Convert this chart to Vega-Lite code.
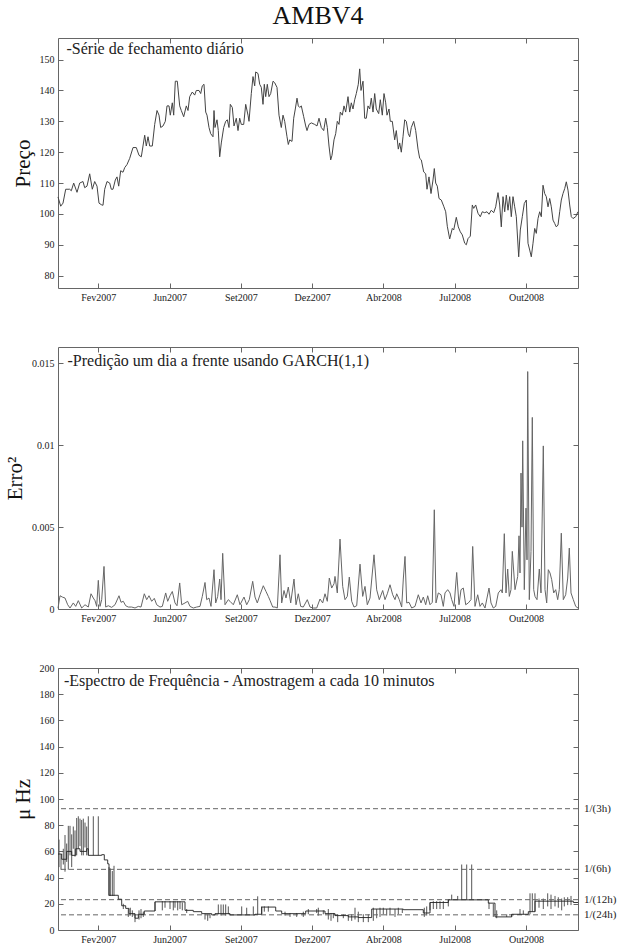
{
  "$schema": "https://vega.github.io/schema/vega-lite/v6.json",
  "padding": {"left": 4, "top": 3, "right": 2, "bottom": 2},
  "bounds": "flush",
  "spacing": 59,
  "title": {"text": "AMBV4", "font": "Liberation Serif", "fontSize": 26, "fontWeight": "normal", "color": "#111", "anchor": "middle", "frame": "group", "offset": 8},
  "config": {
    "font": "Liberation Serif",
    "view": {"stroke": "#666", "strokeWidth": 1},
    "axis": {"labelFont": "Liberation Serif", "labelFontSize": 10, "labelColor": "#222", "titleFont": "Liberation Serif", "titleFontSize": 21, "titleFontWeight": "normal", "titleColor": "#111", "grid": false, "domain": false, "tickColor": "#666", "tickSize": -5, "labelPadding": 9, "titlePadding": 6}
  },
  "datasets": {
    "price": [
      {"t":0,"p":105.5},{"t":2.7,"p":102.5},{"t":5,"p":103.5},{"t":7.7,"p":108},{"t":11.7,"p":108},{"t":13.3,"p":107.5},{"t":15.7,"p":110},{"t":19,"p":107},{"t":21.7,"p":110},{"t":25,"p":110.5},{"t":26.7,"p":108.5},{"t":29,"p":109},{"t":31.7,"p":113},{"t":34.3,"p":108},{"t":36.7,"p":110.5},{"t":39,"p":109},{"t":41,"p":103.5},{"t":43.3,"p":103},{"t":45,"p":102.8},{"t":46.7,"p":108},{"t":49,"p":110.5},{"t":51.7,"p":110},{"t":53.3,"p":108},{"t":55,"p":108},{"t":57.3,"p":111},{"t":59,"p":112},{"t":60.7,"p":109},{"t":62.7,"p":114},{"t":65,"p":113.5},{"t":66.7,"p":115},{"t":69,"p":116},{"t":71.7,"p":118},{"t":75,"p":121.5},{"t":78.3,"p":121.5},{"t":81,"p":119},{"t":83.3,"p":118.5},{"t":86.7,"p":125.5},{"t":88.3,"p":122},{"t":90,"p":125},{"t":91.7,"p":122},{"t":94.3,"p":122},{"t":96.7,"p":129},{"t":99,"p":133.5},{"t":101,"p":132},{"t":102.7,"p":128},{"t":105,"p":128.5},{"t":107.3,"p":130},{"t":109,"p":135},{"t":111,"p":135},{"t":112.3,"p":132},{"t":114.3,"p":136},{"t":115.7,"p":132},{"t":117.3,"p":143},{"t":119.3,"p":143},{"t":121.7,"p":135},{"t":123.3,"p":133.5},{"t":125.7,"p":131.5},{"t":128.3,"p":135},{"t":130,"p":133.5},{"t":131.7,"p":138},{"t":134.3,"p":139.5},{"t":136.7,"p":138.5},{"t":138.3,"p":140},{"t":141,"p":140},{"t":142.7,"p":139},{"t":144.3,"p":141.5},{"t":146,"p":142},{"t":147.7,"p":133},{"t":149,"p":132},{"t":151,"p":128},{"t":152.7,"p":126},{"t":155,"p":125},{"t":156,"p":133.5},{"t":157,"p":128},{"t":159,"p":130.5},{"t":160.3,"p":127},{"t":161.7,"p":118.5},{"t":163.3,"p":123},{"t":165.7,"p":128},{"t":167.7,"p":130},{"t":169.3,"p":130.5},{"t":171,"p":128},{"t":172.3,"p":135.5},{"t":174.3,"p":134.5},{"t":176,"p":128.5},{"t":178.3,"p":131},{"t":180,"p":127},{"t":181.7,"p":131},{"t":183.3,"p":129},{"t":185.7,"p":129},{"t":187.7,"p":135.5},{"t":190,"p":132},{"t":191,"p":130},{"t":193.3,"p":139},{"t":195,"p":144.5},{"t":196.7,"p":141.5},{"t":197.7,"p":146},{"t":200,"p":145.5},{"t":201.7,"p":142},{"t":203.3,"p":141},{"t":205,"p":135.5},{"t":206.3,"p":142},{"t":207.7,"p":138},{"t":209.3,"p":142},{"t":211,"p":138},{"t":212.7,"p":139},{"t":215,"p":143},{"t":216.7,"p":142.5},{"t":219,"p":141},{"t":221,"p":132},{"t":223.3,"p":128},{"t":225,"p":132},{"t":226.7,"p":130},{"t":229,"p":125},{"t":230.3,"p":122.5},{"t":231.7,"p":124},{"t":234,"p":123.5},{"t":235.7,"p":131},{"t":237.3,"p":134},{"t":239,"p":137.5},{"t":240.3,"p":135},{"t":241.7,"p":134.5},{"t":243.3,"p":135},{"t":245.7,"p":131.5},{"t":247.7,"p":128.5},{"t":249,"p":127},{"t":251,"p":129},{"t":253.3,"p":129.5},{"t":256.7,"p":129},{"t":259,"p":128.5},{"t":261,"p":131},{"t":263.3,"p":128},{"t":265.7,"p":127},{"t":267.7,"p":131},{"t":269.3,"p":128},{"t":271,"p":122},{"t":272.7,"p":117.5},{"t":274,"p":119},{"t":276,"p":124},{"t":277.7,"p":126},{"t":279.3,"p":130},{"t":281,"p":129},{"t":282.3,"p":133},{"t":284.3,"p":132},{"t":286,"p":135},{"t":287.7,"p":133},{"t":290,"p":138},{"t":291.7,"p":133},{"t":293.3,"p":136},{"t":295,"p":134},{"t":296.7,"p":137},{"t":298.3,"p":139},{"t":300.3,"p":142},{"t":301.7,"p":147},{"t":303,"p":140},{"t":305,"p":143},{"t":306.7,"p":131},{"t":308.3,"p":131},{"t":310,"p":135},{"t":311.7,"p":134},{"t":313.3,"p":137.5},{"t":315,"p":133},{"t":316.7,"p":139},{"t":318.3,"p":134},{"t":320.7,"p":132.5},{"t":322.3,"p":137},{"t":324.3,"p":132},{"t":326,"p":139},{"t":327.7,"p":136},{"t":329,"p":132},{"t":331,"p":134},{"t":332.3,"p":130},{"t":334.3,"p":130},{"t":336.7,"p":124},{"t":338.3,"p":127},{"t":340.3,"p":121},{"t":341.7,"p":123},{"t":343.3,"p":120},{"t":345,"p":125},{"t":346.7,"p":130.5},{"t":348.3,"p":130},{"t":350.3,"p":126},{"t":351.7,"p":125},{"t":353.3,"p":128},{"t":355.7,"p":130},{"t":357.7,"p":127},{"t":360,"p":121},{"t":361.7,"p":118},{"t":363.3,"p":117.5},{"t":365.7,"p":113.6},{"t":367.7,"p":113},{"t":369,"p":108},{"t":371,"p":112},{"t":373,"p":106.6},{"t":375,"p":111},{"t":376.3,"p":114.7},{"t":377.7,"p":110},{"t":379.3,"p":109},{"t":381,"p":105},{"t":383.3,"p":104.5},{"t":385.7,"p":102.5},{"t":387.7,"p":100.7},{"t":389.3,"p":96},{"t":391.7,"p":91.9},{"t":394.3,"p":95.3},{"t":395.7,"p":94.8},{"t":398.3,"p":98.9},{"t":400.3,"p":95.8},{"t":402.3,"p":94.2},{"t":404.3,"p":93.2},{"t":406.7,"p":90.5},{"t":408.3,"p":90},{"t":410,"p":92},{"t":412.3,"p":92.8},{"t":414.3,"p":102.9},{"t":415.7,"p":101.8},{"t":417.7,"p":102.9},{"t":420,"p":100.2},{"t":422.3,"p":99.1},{"t":424.3,"p":100.7},{"t":426.7,"p":100.4},{"t":429,"p":100.7},{"t":431,"p":99.9},{"t":433.3,"p":101.2},{"t":435.7,"p":100.4},{"t":437.7,"p":102.3},{"t":440,"p":106.9},{"t":441.7,"p":102.9},{"t":443.3,"p":95.8},{"t":445,"p":105.6},{"t":446.7,"p":100.7},{"t":448.3,"p":106.1},{"t":450,"p":101.2},{"t":451.7,"p":105.6},{"t":453.3,"p":99.1},{"t":455,"p":105.6},{"t":456.7,"p":102.3},{"t":458.3,"p":99.1},{"t":460.7,"p":86.1},{"t":462.3,"p":94.8},{"t":464.3,"p":99.1},{"t":466.3,"p":103.4},{"t":468.3,"p":104.5},{"t":470,"p":90.5},{"t":471.7,"p":88.3},{"t":473.3,"p":86.1},{"t":475,"p":90.5},{"t":476.7,"p":95.3},{"t":478.3,"p":93.7},{"t":480,"p":98.5},{"t":481.7,"p":100.7},{"t":483.3,"p":99.1},{"t":485,"p":109.3},{"t":486.7,"p":106.6},{"t":488.3,"p":105.6},{"t":490,"p":102.3},{"t":491.7,"p":105},{"t":493.3,"p":102.3},{"t":495,"p":98},{"t":496.7,"p":96.9},{"t":498.3,"p":95.8},{"t":500,"p":96.4},{"t":501.7,"p":100.7},{"t":503.3,"p":104.5},{"t":505,"p":106.6},{"t":506.7,"p":108.2},{"t":508.3,"p":110.4},{"t":510,"p":107.7},{"t":511.7,"p":102.9},{"t":513.3,"p":99.1},{"t":515,"p":98.5},{"t":517.7,"p":99.1},{"t":520,"p":100.7}
    ],
    "garch": [
      {"t":0,"e":0.00005},{"t":2,"e":0.00081},{"t":4.3,"e":0.00073},{"t":7,"e":0.00067},{"t":9.7,"e":0.00026},{"t":12,"e":0.00006},{"t":15.3,"e":0.00037},{"t":17.7,"e":0.00016},{"t":20.3,"e":0.00051},{"t":23.7,"e":0.00006},{"t":27,"e":0.00026},{"t":30.3,"e":0.00012},{"t":33,"e":0.00093},{"t":35.3,"e":0.00067},{"t":37,"e":0.00051},{"t":38.7,"e":0.00016},{"t":40.3,"e":0.00175},{"t":42,"e":0.00016},{"t":43.7,"e":0.00057},{"t":46,"e":0.0026},{"t":47.7,"e":0.00012},{"t":50.3,"e":0.0002},{"t":53.7,"e":0.0001},{"t":57,"e":0.00026},{"t":61,"e":0.00081},{"t":63,"e":0.00041},{"t":65.3,"e":0.00047},{"t":67.7,"e":0.0002},{"t":70.3,"e":0.00012},{"t":73.7,"e":0.00012},{"t":77,"e":0.00006},{"t":80.3,"e":0.00016},{"t":83,"e":0.00012},{"t":86.3,"e":0.00093},{"t":88.7,"e":0.00057},{"t":91,"e":0.00081},{"t":93.7,"e":0.00047},{"t":96.3,"e":0.00065},{"t":98.7,"e":0.00026},{"t":102,"e":0.00012},{"t":104.3,"e":0.00016},{"t":107.7,"e":0.00098},{"t":109.7,"e":0.00047},{"t":112,"e":0.00081},{"t":114.3,"e":0.00107},{"t":117,"e":0.00037},{"t":119,"e":0.0002},{"t":121.7,"e":0.00159},{"t":123.7,"e":0.00026},{"t":127,"e":0.00037},{"t":129.7,"e":0.00047},{"t":132,"e":0.00016},{"t":135.3,"e":0.00006},{"t":138.7,"e":0.00012},{"t":142,"e":0.00016},{"t":144.3,"e":0.00077},{"t":147,"e":0.00162},{"t":148.7,"e":0.00057},{"t":151,"e":0.00067},{"t":153,"e":0.00016},{"t":156,"e":0.0024},{"t":157.7,"e":0.00037},{"t":159.7,"e":0.00077},{"t":161.7,"e":0.00183},{"t":163,"e":0.00057},{"t":164.7,"e":0.0034},{"t":167,"e":0.00026},{"t":170.3,"e":0.00057},{"t":172,"e":0.00047},{"t":175.3,"e":0.00026},{"t":179.3,"e":0.00087},{"t":182,"e":0.00026},{"t":186,"e":0.00073},{"t":188.7,"e":0.00026},{"t":191.3,"e":0.00057},{"t":194.7,"e":0.00169},{"t":197,"e":0.00073},{"t":199.3,"e":0.00037},{"t":202,"e":0.00087},{"t":205.3,"e":0.00142},{"t":208,"e":0.00107},{"t":210.3,"e":0.00077},{"t":212,"e":0.00053},{"t":214.7,"e":0.00012},{"t":217,"e":0.00012},{"t":219.3,"e":0.00006},{"t":222,"e":0.00331},{"t":223.7,"e":0.00037},{"t":226,"e":0.00113},{"t":228,"e":0.00067},{"t":230.3,"e":0.00134},{"t":232.7,"e":0.00037},{"t":236,"e":0.00183},{"t":238,"e":0.00026},{"t":240.3,"e":0.00093},{"t":242.7,"e":0.00016},{"t":245.3,"e":0.00012},{"t":249.3,"e":0.00057},{"t":252,"e":0.00012},{"t":255.3,"e":0.00006},{"t":258.7,"e":0.00006},{"t":262,"e":0.00061},{"t":264.7,"e":0.00037},{"t":267,"e":0.00093},{"t":269.3,"e":0.00047},{"t":271.3,"e":0.00189},{"t":273.7,"e":0.00128},{"t":276,"e":0.00154},{"t":277,"e":0.00199},{"t":279.3,"e":0.00098},{"t":282,"e":0.00427},{"t":284.7,"e":0.00138},{"t":287,"e":0.00057},{"t":289.3,"e":0.00077},{"t":291.3,"e":0.00195},{"t":293.7,"e":0.00047},{"t":296,"e":0.00012},{"t":298.7,"e":0.0002},{"t":302,"e":0.00274},{"t":304.7,"e":0.00077},{"t":307,"e":0.00138},{"t":309.3,"e":0.00026},{"t":312,"e":0.00067},{"t":316,"e":0.00331},{"t":318.7,"e":0.00117},{"t":321.3,"e":0.00057},{"t":324.7,"e":0.00113},{"t":327,"e":0.00057},{"t":329.3,"e":0.00093},{"t":332,"e":0.00148},{"t":334.7,"e":0.00087},{"t":337,"e":0.00057},{"t":338.7,"e":0.00093},{"t":341.3,"e":0.00057},{"t":343.7,"e":0.00012},{"t":345.3,"e":0.00183},{"t":347,"e":0.00321},{"t":348.7,"e":0.00037},{"t":351,"e":0.00041},{"t":353.7,"e":0.00006},{"t":357,"e":0.00016},{"t":360.3,"e":0.00087},{"t":363,"e":0.00037},{"t":365.3,"e":0.00073},{"t":367.7,"e":0.00026},{"t":369.7,"e":0.00081},{"t":372,"e":0.00026},{"t":374.3,"e":0.00041},{"t":376.3,"e":0.00606},{"t":378,"e":0.00037},{"t":380.3,"e":0.00098},{"t":383,"e":0.00087},{"t":385.3,"e":0.00016},{"t":387,"e":0.00098},{"t":389.7,"e":0.00118},{"t":392,"e":0.00098},{"t":393.7,"e":0.00057},{"t":396,"e":0.00016},{"t":398.7,"e":0.00223},{"t":401,"e":0.00026},{"t":403,"e":0.00118},{"t":405.3,"e":0.00128},{"t":407.7,"e":0.00026},{"t":410.3,"e":0.00037},{"t":413,"e":0.00057},{"t":414.7,"e":0.00382},{"t":417,"e":0.00016},{"t":419.7,"e":0.00087},{"t":422,"e":0.00016},{"t":424.3,"e":0.00037},{"t":427,"e":0.00006},{"t":431,"e":0.00128},{"t":433,"e":0.00037},{"t":435.3,"e":0.00006},{"t":437.7,"e":0.00016},{"t":440.3,"e":0.00098},{"t":443,"e":0.00118},{"t":444.3,"e":0.00098},{"t":446.3,"e":0.0046},{"t":448,"e":0.00098},{"t":449.7,"e":0.00244},{"t":451.3,"e":0.00077},{"t":453,"e":0.00118},{"t":454.3,"e":0.00352},{"t":457,"e":0.00118},{"t":459.7,"e":0.00199},{"t":461,"e":0.00447},{"t":462,"e":0.0022},{"t":463,"e":0.0083},{"t":464,"e":0.005},{"t":464.7,"e":0.01027},{"t":466.3,"e":0.00118},{"t":468,"e":0.00616},{"t":469,"e":0.003},{"t":469.7,"e":0.0145},{"t":471.3,"e":0.00057},{"t":473,"e":0.00352},{"t":474.3,"e":0.0117},{"t":475.7,"e":0.00118},{"t":477,"e":0.00077},{"t":479,"e":0.00057},{"t":481.3,"e":0.00244},{"t":483,"e":0.00098},{"t":485.3,"e":0.00996},{"t":487,"e":0.00118},{"t":488.7,"e":0.00037},{"t":490.3,"e":0.0024},{"t":492,"e":0.0022},{"t":493.7,"e":0.00179},{"t":495.7,"e":0.00098},{"t":497.7,"e":0.00118},{"t":499.7,"e":0.00057},{"t":501.3,"e":0.00118},{"t":503.3,"e":0.00463},{"t":505.3,"e":0.00057},{"t":507.7,"e":0.00087},{"t":509.7,"e":0.00189},{"t":511.3,"e":0.00372},{"t":513,"e":0.00098},{"t":515.3,"e":0.00057},{"t":517.7,"e":0.00016},{"t":520,"e":0.00006}
    ],
    "specline": [
      {"t":0,"f":58},{"t":3.7,"f":54},{"t":8.7,"f":60},{"t":13.7,"f":57},{"t":17.7,"f":62},{"t":22,"f":60},{"t":28.7,"f":62},{"t":30.3,"f":57},{"t":43.7,"f":57.5},{"t":46.3,"f":53.5},{"t":49.7,"f":50.5},{"t":51,"f":26.5},{"t":60.3,"f":23.5},{"t":63.7,"f":18.5},{"t":67.7,"f":16.5},{"t":71,"f":12.5},{"t":77,"f":9},{"t":80.3,"f":12},{"t":86.3,"f":14.5},{"t":97,"f":21.5},{"t":127,"f":15},{"t":135.3,"f":14},{"t":143.7,"f":12.5},{"t":153.7,"f":11.5},{"t":157,"f":12.5},{"t":172,"f":11.5},{"t":197,"f":12},{"t":203.7,"f":17.5},{"t":217.7,"f":14.5},{"t":223.7,"f":12.5},{"t":247.7,"f":14.5},{"t":267,"f":12.5},{"t":277,"f":11},{"t":290.3,"f":10},{"t":300.3,"f":9.5},{"t":313.7,"f":16},{"t":345.3,"f":15.5},{"t":365.3,"f":13},{"t":372,"f":21},{"t":390.3,"f":23},{"t":430.3,"f":20.5},{"t":437,"f":10},{"t":453.7,"f":12},{"t":470.3,"f":14},{"t":477,"f":22},{"t":515.3,"f":21},{"t":520,"f":21}
    ],
    "specbars": [
      {"t":1,"lo":48,"hi":69},{"t":3,"lo":46,"hi":58},{"t":5.3,"lo":50,"hi":62},{"t":7,"lo":44.5,"hi":72.5},{"t":8.7,"lo":52,"hi":66},{"t":10.3,"lo":46,"hi":79.5},{"t":12,"lo":57,"hi":79.5},{"t":13.7,"lo":48,"hi":73},{"t":15.3,"lo":62,"hi":79},{"t":17,"lo":56,"hi":76},{"t":18.7,"lo":57,"hi":85.5},{"t":20.3,"lo":62,"hi":86.8},{"t":22,"lo":64,"hi":85},{"t":23.7,"lo":57,"hi":84},{"t":25.3,"lo":57,"hi":85},{"t":27,"lo":63,"hi":82},{"t":28.7,"lo":57,"hi":79},{"t":30.3,"lo":57,"hi":86.8},{"t":35.3,"lo":57,"hi":86.8},{"t":40.3,"lo":57,"hi":86.8},{"t":51,"lo":26,"hi":48},{"t":52.3,"lo":26,"hi":47},{"t":54.3,"lo":26,"hi":45},{"t":56,"lo":26,"hi":49},{"t":65.3,"lo":16,"hi":20},{"t":70.3,"lo":10,"hi":16},{"t":72.3,"lo":11,"hi":17},{"t":74.3,"lo":10,"hi":15},{"t":77,"lo":6,"hi":12},{"t":81,"lo":8,"hi":15},{"t":83,"lo":9,"hi":16},{"t":85.3,"lo":10,"hi":14},{"t":97,"lo":14.5,"hi":21.5},{"t":104.3,"lo":15,"hi":22},{"t":107,"lo":17,"hi":22},{"t":112,"lo":16,"hi":22},{"t":115.3,"lo":15,"hi":22},{"t":117,"lo":17,"hi":22},{"t":119.7,"lo":15,"hi":22},{"t":122,"lo":16,"hi":22},{"t":124.3,"lo":15,"hi":21},{"t":128.7,"lo":13,"hi":16},{"t":147,"lo":8,"hi":12.5},{"t":149.7,"lo":7,"hi":12},{"t":152,"lo":9,"hi":12},{"t":160.3,"lo":12,"hi":19.5},{"t":163,"lo":11,"hi":19.5},{"t":165.3,"lo":12,"hi":19.5},{"t":167.7,"lo":11,"hi":19.5},{"t":170.3,"lo":12,"hi":18},{"t":183.7,"lo":11.5,"hi":18},{"t":188.7,"lo":11.5,"hi":17},{"t":195.3,"lo":12,"hi":18},{"t":199.7,"lo":12,"hi":25.7},{"t":203.7,"lo":12,"hi":18},{"t":206.3,"lo":14,"hi":18},{"t":210.3,"lo":14,"hi":18},{"t":227,"lo":11,"hi":14},{"t":232,"lo":10,"hi":13},{"t":238.7,"lo":10,"hi":13},{"t":245.3,"lo":10,"hi":14},{"t":250.3,"lo":12,"hi":16},{"t":258.7,"lo":13,"hi":16},{"t":260.3,"lo":11,"hi":17},{"t":265.3,"lo":12,"hi":15},{"t":270.3,"lo":8,"hi":16},{"t":273,"lo":7,"hi":13},{"t":275.3,"lo":9,"hi":13},{"t":279.7,"lo":6,"hi":12},{"t":285.3,"lo":9,"hi":12},{"t":290.3,"lo":7,"hi":12},{"t":293.7,"lo":7,"hi":12},{"t":297,"lo":8,"hi":17},{"t":300.3,"lo":6,"hi":14},{"t":305.3,"lo":6,"hi":12},{"t":310.3,"lo":6,"hi":12},{"t":315.3,"lo":7,"hi":17},{"t":318.7,"lo":9,"hi":16},{"t":322,"lo":10,"hi":17},{"t":325.3,"lo":12,"hi":17},{"t":328.7,"lo":11,"hi":16},{"t":332,"lo":12,"hi":17},{"t":337,"lo":10,"hi":16},{"t":340.3,"lo":12,"hi":17},{"t":344.3,"lo":13,"hi":16},{"t":366.3,"lo":10,"hi":17},{"t":368.7,"lo":11,"hi":18},{"t":372,"lo":15,"hi":21},{"t":375.3,"lo":16,"hi":22},{"t":378.7,"lo":16,"hi":22},{"t":382,"lo":16,"hi":22},{"t":385.3,"lo":16,"hi":22},{"t":390.3,"lo":18,"hi":23},{"t":393.7,"lo":23,"hi":27},{"t":399.7,"lo":23,"hi":26},{"t":403.7,"lo":23,"hi":50},{"t":408.7,"lo":23,"hi":50},{"t":413.7,"lo":23,"hi":50},{"t":431,"lo":16,"hi":21},{"t":435.3,"lo":10,"hi":20},{"t":438.7,"lo":9,"hi":15},{"t":448.7,"lo":10,"hi":12},{"t":453.7,"lo":10,"hi":12},{"t":462,"lo":12,"hi":16},{"t":465.3,"lo":12,"hi":15},{"t":472,"lo":12,"hi":28},{"t":474.3,"lo":14,"hi":28},{"t":477,"lo":14,"hi":28},{"t":481,"lo":17,"hi":24},{"t":485.3,"lo":16,"hi":24},{"t":489.7,"lo":18,"hi":28},{"t":493,"lo":16,"hi":27},{"t":497,"lo":18,"hi":26},{"t":500.3,"lo":17,"hi":25},{"t":503.7,"lo":15,"hi":24},{"t":506.3,"lo":18,"hi":25},{"t":509.7,"lo":19,"hi":25},{"t":513,"lo":19,"hi":26}
    ],
    "hlines": [
      {"f":92.6,"lab":"1/(3h)"},{"f":46.3,"lab":"1/(6h)"},{"f":23.15,"lab":"1/(12h)"},{"f":11.57,"lab":"1/(24h)"}
    ]
  },
  "vconcat": [
    {
      "width": 520, "height": 250,
      "layer": [
        {
          "data": {"name": "price"},
          "mark": {"type": "line", "color": "#444", "strokeWidth": 1},
          "encoding": {
            "x": {"field": "t", "type": "quantitative", "scale": {"domain": [0, 520], "nice": false, "zero": false},
                  "axis": {"title": null, "values": [40.3, 111.6, 182.9, 254.1, 325.4, 396.7, 468], "labelExpr": "datum.value < 60 ? 'Fev2007' : datum.value < 130 ? 'Jun2007' : datum.value < 200 ? 'Set2007' : datum.value < 270 ? 'Dez2007' : datum.value < 340 ? 'Abr2008' : datum.value < 410 ? 'Jul2008' : 'Out2008'"}},
            "y": {"field": "p", "type": "quantitative", "scale": {"domain": [76, 157], "nice": false, "zero": false},
                  "axis": {"title": "Preço", "values": [80, 90, 100, 110, 120, 130, 140, 150]}}
          }
        },
        {
          "data": {"values": [{}]},
          "mark": {"type": "text", "text": "-Série de fechamento diário", "align": "left", "baseline": "alphabetic", "fontSize": 16, "color": "#222", "font": "Liberation Serif"},
          "encoding": {
            "x": {"datum": 8.5, "type": "quantitative", "axis": {"orient": "top", "labels": false, "title": null, "values": [40.3, 111.6, 182.9, 254.1, 325.4, 396.7, 468]}},
            "y": {"datum": 151.7, "type": "quantitative", "axis": {"orient": "right", "labels": false, "title": null, "values": [80, 90, 100, 110, 120, 130, 140, 150]}}
          }
        }
      ],
      "resolve": {"axis": {"x": "independent", "y": "independent"}}
    },
    {
      "width": 520, "height": 262,
      "layer": [
        {
          "data": {"name": "garch"},
          "mark": {"type": "line", "color": "#666", "strokeWidth": 1},
          "encoding": {
            "x": {"field": "t", "type": "quantitative", "scale": {"domain": [0, 520], "nice": false, "zero": false},
                  "axis": {"title": null, "values": [40.3, 111.6, 182.9, 254.1, 325.4, 396.7, 468], "labelExpr": "datum.value < 60 ? 'Fev2007' : datum.value < 130 ? 'Jun2007' : datum.value < 200 ? 'Set2007' : datum.value < 270 ? 'Dez2007' : datum.value < 340 ? 'Abr2008' : datum.value < 410 ? 'Jul2008' : 'Out2008'"}},
            "y": {"field": "e", "type": "quantitative", "scale": {"domain": [0, 0.016], "nice": false},
                  "axis": {"title": "Erro²", "values": [0, 0.005, 0.01, 0.015], "format": "~g"}}
          }
        },
        {
          "data": {"values": [{}]},
          "mark": {"type": "text", "text": "-Predição um dia a frente usando GARCH(1,1)", "align": "left", "baseline": "alphabetic", "fontSize": 16, "color": "#222", "font": "Liberation Serif"},
          "encoding": {
            "x": {"datum": 9.5, "type": "quantitative", "axis": {"orient": "top", "labels": false, "title": null, "values": [40.3, 111.6, 182.9, 254.1, 325.4, 396.7, 468]}},
            "y": {"datum": 0.01484, "type": "quantitative", "axis": {"orient": "right", "labels": false, "title": null, "values": [0, 0.005, 0.01, 0.015]}}
          }
        }
      ],
      "resolve": {"axis": {"x": "independent", "y": "independent"}}
    },
    {
      "width": 520, "height": 262,
      "layer": [
        {
          "data": {"name": "specbars"},
          "mark": {"type": "rule", "color": "#555", "strokeWidth": 1},
          "encoding": {
            "x": {"field": "t", "type": "quantitative", "scale": {"domain": [0, 520], "nice": false, "zero": false},
                  "axis": {"title": null, "values": [40.3, 111.6, 182.9, 254.1, 325.4, 396.7, 468], "labelExpr": "datum.value < 60 ? 'Fev2007' : datum.value < 130 ? 'Jun2007' : datum.value < 200 ? 'Set2007' : datum.value < 270 ? 'Dez2007' : datum.value < 340 ? 'Abr2008' : datum.value < 410 ? 'Jul2008' : 'Out2008'"}},
            "y": {"field": "lo", "type": "quantitative", "scale": {"domain": [0, 200], "nice": false},
                  "axis": {"title": "μ Hz", "values": [0, 20, 40, 60, 80, 100, 120, 140, 160, 180, 200]}},
            "y2": {"field": "hi"}
          }
        },
        {
          "data": {"name": "hlines"},
          "mark": {"type": "rule", "color": "#666", "strokeWidth": 1, "strokeDash": [5, 3]},
          "encoding": {
            "y": {"field": "f", "type": "quantitative", "axis": null}
          }
        },
        {
          "data": {"name": "specline"},
          "mark": {"type": "line", "color": "#222", "strokeWidth": 0.9, "interpolate": "step-after"},
          "encoding": {
            "x": {"field": "t", "type": "quantitative", "axis": null},
            "y": {"field": "f", "type": "quantitative", "axis": null}
          }
        },
        {
          "data": {"name": "hlines"},
          "mark": {"type": "text", "align": "left", "baseline": "middle", "fontSize": 11, "color": "#222", "font": "Liberation Serif"},
          "encoding": {
            "x": {"datum": 526, "type": "quantitative", "axis": null},
            "y": {"field": "f", "type": "quantitative", "axis": null},
            "text": {"field": "lab"}
          }
        },
        {
          "data": {"values": [{}]},
          "mark": {"type": "text", "text": "-Espectro de Frequência - Amostragem a cada 10 minutos", "align": "left", "baseline": "alphabetic", "fontSize": 16, "color": "#222", "font": "Liberation Serif"},
          "encoding": {
            "x": {"datum": 6, "type": "quantitative", "axis": {"orient": "top", "labels": false, "title": null, "values": [40.3, 111.6, 182.9, 254.1, 325.4, 396.7, 468]}},
            "y": {"datum": 186.5, "type": "quantitative", "axis": {"orient": "right", "labels": false, "title": null, "values": [0, 20, 40, 60, 80, 100, 120, 140, 160, 180, 200]}}
          }
        }
      ],
      "resolve": {"axis": {"x": "independent", "y": "independent"}}
    }
  ]
}
